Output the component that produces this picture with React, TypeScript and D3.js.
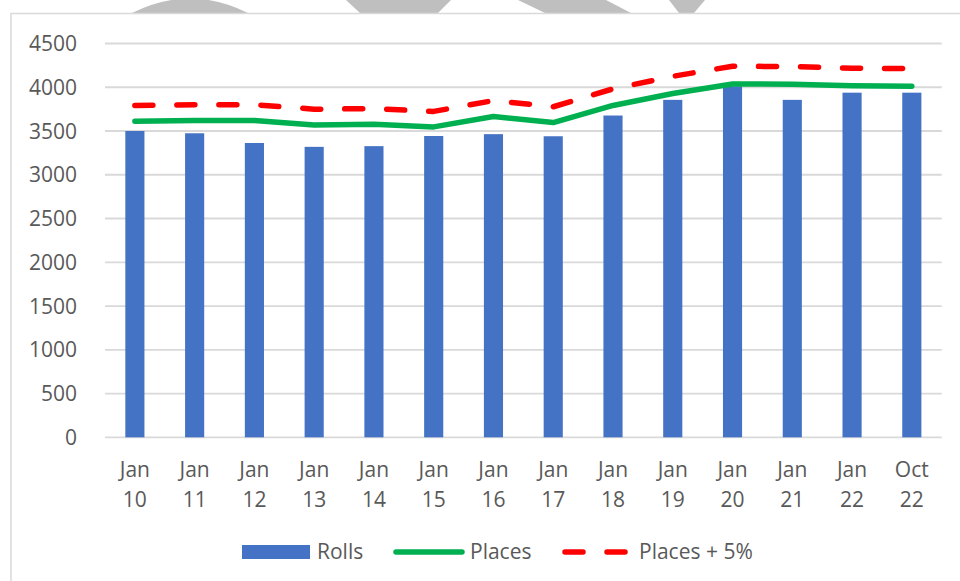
import React from "react";
import * as d3 from "d3";

const categories = ["Jan 10", "Jan 11", "Jan 12", "Jan 13", "Jan 14", "Jan 15", "Jan 16", "Jan 17", "Jan 18", "Jan 19", "Jan 20", "Jan 21", "Jan 22", "Oct 22"];
const rolls = [3500, 3474, 3363, 3319, 3327, 3443, 3464, 3440, 3677, 3856, 4012, 3856, 3938, 3938];
const places = [3612, 3620, 3620, 3570, 3578, 3547, 3665, 3597, 3792, 3929, 4038, 4035, 4016, 4012];
const placesPlus5 = [3792, 3801, 3801, 3749, 3757, 3724, 3848, 3777, 3982, 4125, 4240, 4237, 4217, 4213];
const yTicks = [0, 500, 1000, 1500, 2000, 2500, 3000, 3500, 4000, 4500];
const seriesNames = ["Rolls", "Places", "Places + 5%"];

const W = 960;
const H = 581;
const FONT = "'Open Sans', sans-serif";
const TEXT = "#595959";
const FS = 21;

export default function App() {
  const x = d3.scaleBand<string>().domain(categories).range([105, 941.7]).padding(0);
  const y = d3.scaleLinear().domain([0, 4500]).range([437.3, 43.5]);
  const bw = x.bandwidth();
  const barW = bw * 0.32;
  const cx = (c: string) => (x(c) as number) + bw / 2;

  const line = d3
    .line<number>()
    .x((_, i) => cx(categories[i]))
    .y((v) => y(v));

  return (
    <svg
      width={W}
      height={H}
      style={{ position: "absolute", left: 0, top: 0, background: "#fff" }}
      fontFamily={FONT}
    >
      {/* background watermark fragments above chart */}
      <g fill="#bfbfbf">
        <path d="M132,13 Q190,-16 248,13 Z" />
        <path d="M346,0 L451,0 L438,13 L360,13 Z" />
        <path d="M518,0 L606,0 L631,13 L545,13 Z" />
        <path d="M669,0 L705,0 L694,13 L679,13 Z" />
      </g>
      {/* chart area border */}
      <rect x={11} y={13.5} width={W + 10} height={H + 10} fill="#fff" stroke="#d9d9d9" strokeWidth={1.5} />

      {/* gridlines */}
      <g>
        {yTicks.map((t) => (
          <line key={t} x1={105} x2={941.7} y1={y(t)} y2={y(t)} stroke="#d9d9d9" strokeWidth={1.8} />
        ))}
      </g>
      {/* y labels */}
      <g fontSize={FS} fill={TEXT} textAnchor="end">
        {yTicks.map((t) => (
          <text key={t} x={77} y={y(t) + 7.5}>
            {t}
          </text>
        ))}
      </g>

      {/* bars */}
      <g fill="#4472c4">
        {categories.map((c, i) => (
          <rect key={c} x={cx(c) - barW / 2} y={y(rolls[i])} width={barW} height={y(0) - y(rolls[i])} />
        ))}
      </g>

      {/* lines */}
      <path d={line(places) || ""} fill="none" stroke="#00b050" strokeWidth={5.5} strokeLinecap="round" strokeLinejoin="round" />
      <path
        d={line(placesPlus5) || ""}
        fill="none"
        stroke="#ff0000"
        strokeWidth={5.5}
        strokeLinecap="round"
        strokeLinejoin="round"
        strokeDasharray="18 24"
      />

      {/* x labels */}
      <g fontSize={FS} fill={TEXT} textAnchor="middle">
        {categories.map((c) => {
          const [a, b] = c.split(" ");
          return (
            <g key={c}>
              <text x={cx(c)} y={476.8}>{a}</text>
              <text x={cx(c)} y={506.8}>{b}</text>
            </g>
          );
        })}
      </g>

      {/* legend */}
      <g fontSize={FS} fill={TEXT}>
        <rect x={242} y={545} width={68} height={14} fill="#4472c4" />
        <text x={317} y={558.8}>{seriesNames[0]}</text>
        <line x1={396} x2={462} y1={552} y2={552} stroke="#00b050" strokeWidth={5.5} strokeLinecap="round" />
        <text x={470} y={558.8}>{seriesNames[1]}</text>
        <line x1={565} x2={625} y1={552} y2={552} stroke="#ff0000" strokeWidth={5.5} strokeLinecap="round" strokeDasharray="18 24" />
        <text x={639} y={558.8}>{seriesNames[2]}</text>
      </g>
    </svg>
  );
}
